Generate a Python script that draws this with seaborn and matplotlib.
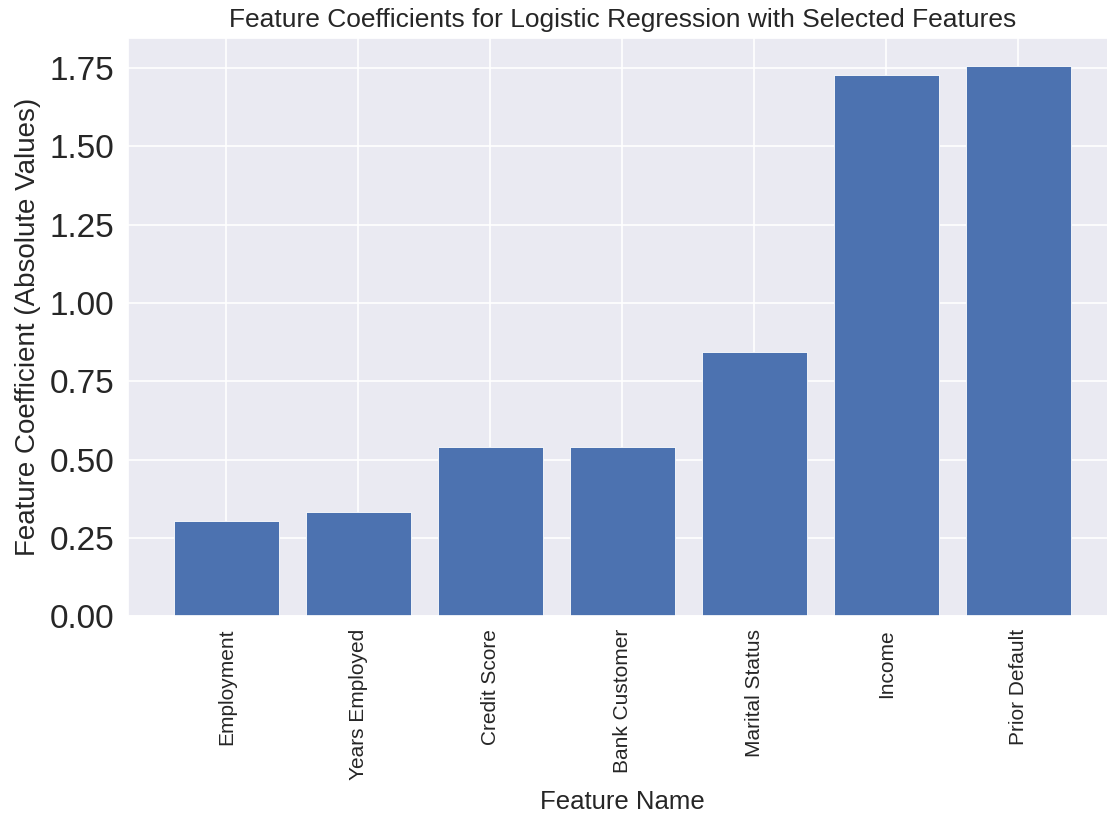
import matplotlib
matplotlib.use("Agg")
import matplotlib.pyplot as plt
import seaborn as sns
import pandas as pd

features = ["Employment", "Years Employed", "Credit Score", "Bank Customer",
            "Marital Status", "Income", "Prior Default"]
coefficients = [0.304, 0.332, 0.540, 0.540, 0.843, 1.729, 1.757]
ytick_values = [0, 0.25, 0.5, 0.75, 1.0, 1.25, 1.5, 1.75]

sns.set_theme(style="darkgrid")
plt.rcParams["font.family"] = ["Liberation Sans", "DejaVu Sans"]
plt.rcParams["text.color"] = ".15"
plt.rcParams["axes.labelcolor"] = ".15"
plt.rcParams["xtick.color"] = ".15"
plt.rcParams["ytick.color"] = ".15"

df = pd.DataFrame({"Feature Name": features, "Coefficient": coefficients})

fig = plt.figure(figsize=(11.07, 8.13), dpi=100)
ax = fig.add_axes([0.1156, 0.2417, 0.8934, 0.7113])

sns.barplot(data=df, x="Feature Name", y="Coefficient", color="#4C72B0",
            saturation=1, width=0.8, edgecolor="white", linewidth=0.6, ax=ax)

ax.set_xlim(-0.746, 6.746)
ax.set_ylim(0, 1.845)
ax.grid(True, axis="both", color="white", linewidth=1.2)
ax.set_axisbelow(True)
ax.set_yticks(ytick_values)
ax.set_yticklabels([f"{v:.2f}" for v in ytick_values])
ax.tick_params(axis="y", labelsize=24, pad=4)
ax.tick_params(axis="x", labelsize=15, rotation=90, pad=3)

ax.set_title("Feature Coefficients for Logistic Regression with Selected Features",
             fontsize=19, pad=8)
ax.set_xlabel("Feature Name", fontsize=18.5, labelpad=7)
ax.set_ylabel("Feature Coefficient (Absolute Values)", fontsize=20, labelpad=6)

fig.savefig("out.png", dpi=100)
